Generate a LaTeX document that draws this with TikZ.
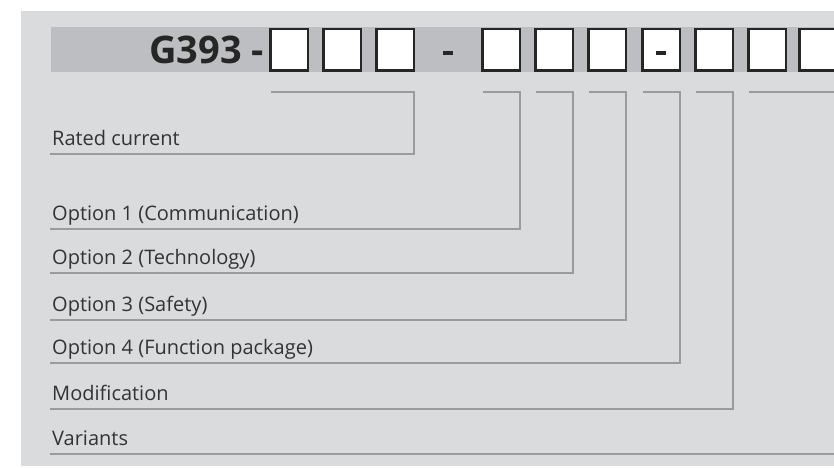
\documentclass[tikz,border=0pt]{standalone}
\usepackage{fontspec}
\setmainfont{Open Sans}
\definecolor{bgl}{HTML}{DADBDD}
\definecolor{band}{HTML}{BDBEC1}
\definecolor{conn}{HTML}{9A9B9D}
\definecolor{ink}{HTML}{262626}
\definecolor{lblc}{HTML}{333333}
\begin{document}
\begin{tikzpicture}[x=1pt,y=-1pt,
  cellbox/.style={draw=ink, line width=2.6pt, fill=white, minimum width=37.5pt, minimum height=41.5pt, inner sep=0pt, outer sep=0pt},
  dashbar/.style={fill=ink, minimum width=10pt, minimum height=4pt, inner sep=0pt},
  conn/.style={draw=conn, line width=2pt},
  lbl/.style={anchor=base west, inner sep=0pt, text=lblc, font=\fontsize{20}{22}\selectfont},
  title/.style={anchor=base east, inner sep=0pt, text=ink, font=\fontsize{38}{40}\selectfont\bfseries}]
\useasboundingbox (0,0) rectangle (834,467);
\fill[white] (0,0) rectangle (834,467);
\fill[bgl] (21,11) rectangle (840,466);
\fill[band] (51,27) rectangle (840,72);
% code boxes
\foreach \n/\cx in {1/289.3,2/342.3,3/395.3,4/501.3,5/554.3,6/607.3,7/661.3,8/714.3,9/767.3,10/818.3}
  \node[cellbox] (b\n) at (\cx,49.8) {};
\node[title] (g) at (264,63) {G393 -};
\node[dashbar] (d1) at (448,52.7) {};
\node[dashbar] (d2) at (b7.center) [yshift=-2.9pt] {};
% label line ends
\coordinate (top) at (0,92);
\foreach \n/\y in {1/153.7,2/228.5,3/272.5,4/319.5,5/362.5,6/408.5,7/453.5}
  \coordinate (l\n) at (50,\y);
\node[lbl] (t1) at ([shift={(2,-8.5)}]l1) {Rated current};
\node[lbl] (t2) at ([shift={(2,-8.5)}]l2) {Option 1 (Communication)};
\node[lbl] (t3) at ([shift={(2,-8.5)}]l3) {Option 2 (Technology)};
\node[lbl] (t4) at ([shift={(2,-8.5)}]l4) {Option 3 (Safety)};
\node[lbl] (t5) at ([shift={(2,-8.5)}]l5) {Option 4 (Function package)};
\node[lbl] (t6) at ([shift={(2,-8.5)}]l6) {Modification};
\node[lbl] (t7) at ([shift={(2,-8.5)}]l7) {Variants};
% connectors
\draw[conn] (b1.west |- top) -- (b3.east |- top) -- (b3.east |- l1) -- (l1);
\draw[conn] (b4.west |- top) -- (b4.east |- top) -- (b4.east |- l2) -- (l2);
\draw[conn] (b5.west |- top) -- (b5.east |- top) -- (b5.east |- l3) -- (l3);
\draw[conn] (b6.west |- top) -- (b6.east |- top) -- (b6.east |- l4) -- (l4);
\draw[conn] (b7.west |- top) -- (b7.east |- top) -- (b7.east |- l5) -- (l5);
\draw[conn] (b8.west |- top) -- (b8.east |- top) -- (b8.east |- l6) -- (l6);
\draw[conn] (b9.west |- top) -- (b10.east |- top) -- (b10.east |- l7) -- (l7);
\end{tikzpicture}
\end{document}
